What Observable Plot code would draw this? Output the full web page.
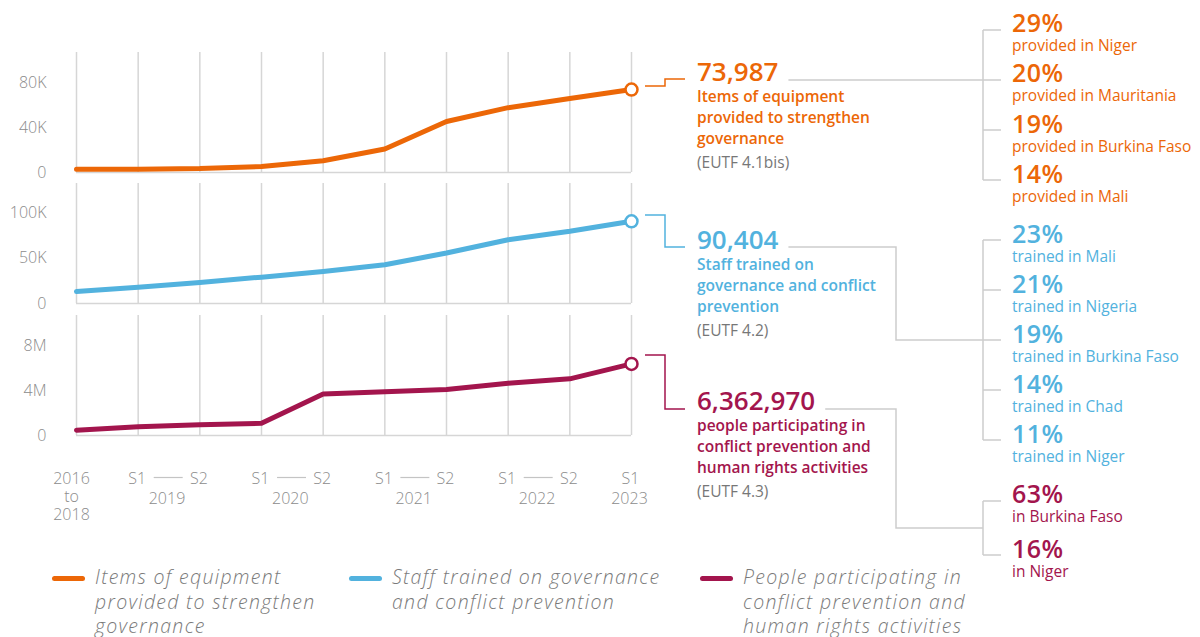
<!DOCTYPE html>
<html>
<head>
<meta charset="utf-8">
<script src="https://cdn.jsdelivr.net/npm/d3@7"></script>
<script src="https://cdn.jsdelivr.net/npm/@observablehq/plot@0.6"></script>
<style>
  body { margin: 0; background: #fff; font-family: "Open Sans", Roboto, sans-serif; }
  #wrap { position: relative; width: 1200px; height: 637px; overflow: hidden; }
  .panel { position: absolute; left: 0; }
  .ann { position: absolute; left: 697px; white-space: nowrap; }
  .big { font-size: 26px; font-weight: 600; line-height: 29px; }
  .desc { font-size: 15.5px; font-weight: 600; line-height: 21px; }
  .ref { font-size: 15.5px; color: #777; line-height: 26px; }
  .brk { position: absolute; left: 1012px; white-space: nowrap; }
  .pct { font-size: 25px; font-weight: 600; line-height: 26px; letter-spacing: 0.5px; }
  .sub { font-size: 15.5px; line-height: 20px; }
  .leg { position: absolute; top: 565px; color: #7a7a7a; font-style: italic; font-weight: 300;
         font-size: 19.5px; line-height: 24.5px; white-space: nowrap; letter-spacing: 1.3px; }
  .sw { position: absolute; width: 33px; height: 5px; border-radius: 3px; top: 11px; }
  #over { position: absolute; left: 0; top: 0; pointer-events: none; }
</style>
</head>
<body>
<div id="wrap"></div>
<script>
// ---------- data ----------
const periods = ["2016-2018", "2019 S1", "2019 S2", "2020 S1", "2020 S2", "2021 S1", "2021 S2", "2022 S1", "2022 S2", "2023 S1"];
const tickTop = ["2016", "S1", "S2", "S1", "S2", "S1", "S2", "S1", "S2", "S1"];
const years = ["2019", "2020", "2021", "2022", "2023"];

const equipment = [3000, 3000, 3500, 5400, 10500, 21000, 45500, 57800, 66000, 73987];
const staff = [13200, 18000, 23200, 29000, 35300, 42700, 55500, 70200, 79400, 90404];
const people = [470000, 770000, 950000, 1090000, 3700000, 3900000, 4090000, 4650000, 5040000, 6362970];

const equipmentTicks = [0, 40000, 80000];
const staffTicks = [0, 50000, 100000];
const peopleTicks = [0, 4000000, 8000000];

const series = [
  { key: "equipment", total: "73,987", desc: ["Items of equipment", "provided to strengthen", "governance"], ref: "(EUTF 4.1bis)",
    legend: ["Items of equipment", "provided to strengthen", "governance"] },
  { key: "staff", total: "90,404", desc: ["Staff trained on", "governance and conflict", "prevention"], ref: "(EUTF 4.2)",
    legend: ["Staff trained on governance", "and conflict prevention"] },
  { key: "people", total: "6,362,970", desc: ["people participating in", "conflict prevention and", "human rights activities"], ref: "(EUTF 4.3)",
    legend: ["People participating in", "conflict prevention and", "human rights activities"] }
];

const equipmentShares = [29, 20, 19, 14];
const equipmentCountries = ["provided in Niger", "provided in Mauritania", "provided in Burkina Faso", "provided in Mali"];
const staffShares = [23, 21, 19, 14, 11];
const staffCountries = ["trained in Mali", "trained in Nigeria", "trained in Burkina Faso", "trained in Chad", "trained in Niger"];
const peopleShares = [63, 16];
const peopleCountries = ["in Burkina Faso", "in Niger"];

// ---------- style / layout ----------
const COLORS = { equipment: "#EC6707", staff: "#52B2DE", people: "#A3154D" };
const GRID = "#d6d6d6";
const TICK = "#8c8c8c";
const wrap = document.getElementById("wrap");

const kFmt = d => d === 0 ? "0" : (d / 1000) + "K";
const mFmt = d => d === 0 ? "0" : (d / 1e6) + "M";

function panel(values, color, yMax, ticks, fmt, top, bottomExtra, extraMarks) {
  const data = values.map((v, i) => ({ i, v, period: periods[i] }));
  const p = Plot.plot({
    width: 660, height: 12 + 120 + bottomExtra,
    marginLeft: 76, marginRight: 29, marginTop: 12, marginBottom: bottomExtra,
    style: { fontFamily: "'Open Sans', sans-serif", fontSize: "16px", color: TICK, fontWeight: 300, overflow: "visible", background: "transparent" },
    x: { domain: [0, periods.length - 1], axis: null },
    y: { domain: [0, yMax], axis: null },
    marks: [
      Plot.ruleX(data, { x: "i", stroke: GRID, strokeWidth: 1.5 }),
      Plot.ruleY([0], { stroke: GRID, strokeWidth: 1.5 }),
      Plot.axisY({ ticks, tickFormat: fmt, tickSize: 0, tickPadding: 30, label: null }),
      Plot.line(data, { x: "i", y: "v", stroke: color, strokeWidth: 5, strokeLinejoin: "round", strokeLinecap: "round" }),
      Plot.dot(data.slice(-1), { x: "i", y: "v", r: 6, fill: "white", stroke: color, strokeWidth: 2.5 }),
      ...(extraMarks ? extraMarks(data) : [])
    ]
  });
  p.classList.add("panel");
  p.style.top = top + "px";
  wrap.appendChild(p);
  return p;
}

panel(equipment, COLORS.equipment, 107000, equipmentTicks, kFmt, 40, 8);
panel(staff, COLORS.staff, 132000, staffTicks, kFmt, 171, 8);
panel(people, COLORS.people, 10670000, peopleTicks, mFmt, 303, 98, data => {
  const yearInfo = years.map(y => {
    const idx = periods.map((p, i) => p.startsWith(y) ? i : -1).filter(i => i >= 0);
    return { year: y, mid: d3.mean(idx), a: idx[0], b: idx[idx.length - 1], pair: idx.length > 1 };
  });
  const tick = { frameAnchor: "bottom", fill: TICK, fontSize: 16 };
  const first = data.slice(0, 1);
  const rest = data.slice(1);
  return [
    Plot.text(rest, { x: "i", text: d => tickTop[d.i], dy: 48, dx: -1, ...tick }),
    Plot.text(first, { x: "i", text: d => tickTop[d.i], dy: 48, dx: -5, ...tick }),
    Plot.text(first, { x: "i", text: () => "to", dy: 66, dx: -5, ...tick }),
    Plot.text(first, { x: "i", text: d => d.period.split("-")[1], dy: 84, dx: -5, ...tick }),
    Plot.text(yearInfo, { x: "mid", text: "year", dy: 68, dx: -2, ...tick }),
    Plot.ruleY(yearInfo.filter(d => d.pair), { y: 0, x1: d => d.a + 0.26, x2: d => d.b - 0.27, dy: 42, stroke: "#c4c4c4", strokeWidth: 1.2 })
  ];
});

// ---------- annotations ----------
const annTops = { equipment: 57, staff: 225, people: 385.5 };
const numEls = {};
series.forEach(s => {
  const div = document.createElement("div");
  div.className = "ann";
  div.style.top = annTops[s.key] + "px";
  div.style.color = COLORS[s.key];
  const big = document.createElement("span");
  big.textContent = s.total;
  const bigLine = document.createElement("div");
  bigLine.className = "big";
  bigLine.appendChild(big);
  div.appendChild(bigLine);
  s.desc.forEach(t => { const d = document.createElement("div"); d.className = "desc"; d.textContent = t; div.appendChild(d); });
  const r = document.createElement("div"); r.className = "ref"; r.textContent = s.ref; div.appendChild(r);
  wrap.appendChild(div);
  numEls[s.key] = big;
});

function breakdown(shares, labels, color, top, pitch) {
  shares.forEach((v, i) => {
    const div = document.createElement("div");
    div.className = "brk";
    div.style.top = (top + i * pitch) + "px";
    div.style.color = color;
    div.innerHTML = `<div class="pct">${v}%</div><div class="sub">${labels[i]}</div>`;
    wrap.appendChild(div);
  });
}
breakdown(equipmentShares, equipmentCountries, COLORS.equipment, 9, 50.3);
breakdown(staffShares, staffCountries, COLORS.staff, 220, 50);
breakdown(peopleShares, peopleCountries, COLORS.people, 480, 55);

// ---------- legend ----------
const legLeft = { equipment: 52, staff: 349, people: 700 };
series.forEach(s => {
  const div = document.createElement("div");
  div.className = "leg";
  div.style.left = legLeft[s.key] + "px";
  div.innerHTML = `<div class="sw" style="background:${COLORS[s.key]}"></div><div style="margin-left:43px">${s.legend.join("<br>")}</div>`;
  wrap.appendChild(div);
});

// ---------- connector lines ----------
const svg = d3.select(wrap).append("svg").attr("id", "over").attr("width", 1200).attr("height", 637);
const wrapRect = wrap.getBoundingClientRect();
const endX = key => numEls[key].getBoundingClientRect().right - wrapRect.left + 10;
const gray = "#cdcdcd";
function path(d, stroke) { svg.append("path").attr("d", d).attr("fill", "none").attr("stroke", stroke).attr("stroke-width", 1.5); }

// colored step connectors
path("M645,86H665V79H685", COLORS.equipment);
path("M645,215H665V247H685", COLORS.staff);
path("M645,355H665V409H685", COLORS.people);

// gray leads to the breakdown brackets
path(`M${endX("equipment")},80H983`, gray);
path(`M${endX("staff")},247H896V340H983`, gray);
path(`M${endX("people")},409H896V528H983`, gray);

// brackets
function bracket(ys) {
  path(`M983,${ys[0]}V${ys[ys.length - 1]}`, gray);
  ys.forEach(y => path(`M983,${y}H1001`, gray));
}
bracket([30, 80, 130, 180]);
bracket([240, 290, 340, 390, 440]);
bracket([501, 555]);
</script>
</body>
</html>
